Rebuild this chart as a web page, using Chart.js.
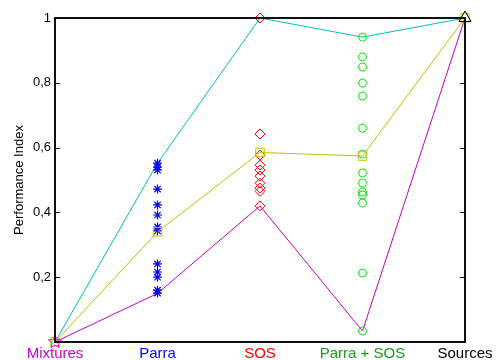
<!DOCTYPE html>
<html>
<head>
  <meta charset="UTF-8">
  <title>Performance Index</title>
  <script src="https://cdn.jsdelivr.net/npm/chart.js"></script>
  <style>
    html, body { margin: 0; padding: 0; background: #fff; }
    #wrap { width: 499px; height: 360px; }
  </style>
</head>
<body>
  <div id="wrap"><canvas id="grafico" width="499" height="360"></canvas></div>
  <script>
    // categorias no eixo x (posições 1..5)
    const categorias = ['Mixtures', 'Parra', 'SOS', 'Parra + SOS', 'Sources'];
    const coresCategorias = ['#cc00cc', '#0000ff', '#ff0000', '#1a9a1a', '#000000'];

    // curvas resumo (min, média, max)
    const serieMax = [0, 0.552, 1, 0.941, 1];
    const serieMedia = [0, 0.34, 0.585, 0.574, 1];
    const serieMin = [0, 0.15, 0.42, 0.034, 1];

    // pontos individuais por categoria
    const pontosParra = [0.552, 0.540, 0.531, 0.472, 0.423, 0.392, 0.355, 0.343, 0.241, 0.216, 0.2, 0.16, 0.151];
    const pontosSos = [1, 0.642, 0.577, 0.546, 0.531, 0.512, 0.49, 0.475, 0.465, 0.42];
    const pontosParraSos = [0.941, 0.88, 0.849, 0.799, 0.759, 0.66, 0.58, 0.522, 0.491, 0.463, 0.454, 0.429, 0.213, 0.034];
    const pontoMixtures = [0];
    const pontoSources = [1];

    // marcador pentagrama (não existe no Chart.js)
    function pentagrama(cor, r) {
      const c = document.createElement('canvas');
      c.width = c.height = r * 2 + 2;
      const g = c.getContext('2d');
      g.strokeStyle = cor;
      g.lineWidth = 1;
      g.beginPath();
      for (let i = 0; i < 10; i++) {
        const ang = -Math.PI / 2 + i * Math.PI / 5;
        const rr = i % 2 === 0 ? r : r * 0.42;
        const px = r + 1 + rr * Math.cos(ang);
        const py = r + 1 + rr * Math.sin(ang);
        if (i === 0) g.moveTo(px, py); else g.lineTo(px, py);
      }
      g.closePath();
      g.stroke();
      return c;
    }

    const emX = (x, arr) => arr.map(v => ({ x: x, y: v }));
    const serie = arr => arr.map((v, i) => ({ x: i + 1, y: v }));

    // caixa e ticks para dentro
    const caixa = {
      id: 'caixa',
      afterDatasetsDraw(chart) {
        const ctx = chart.ctx;
        const a = chart.chartArea;
        const ys = chart.scales.y;
        ctx.save();
        ctx.strokeStyle = '#000';
        ctx.lineWidth = 1;
        ys.ticks.forEach(t => {
          if (t.value <= 0 || t.value >= 1) return;
          const py = Math.round(ys.getPixelForValue(t.value)) + 0.5;
          ctx.beginPath();
          ctx.moveTo(a.left, py); ctx.lineTo(a.left + 5, py);
          ctx.moveTo(a.right, py); ctx.lineTo(a.right - 5, py);
          ctx.stroke();
        });
        ctx.lineWidth = 2;
        ctx.strokeStyle = '#111';
        ctx.strokeRect(a.left, a.top, a.right - a.left, a.bottom - a.top);
        ctx.restore();
      }
    };

    new Chart(document.getElementById('grafico'), {
      type: 'scatter',
      data: {
        datasets: [
          { data: serie(serieMedia), showLine: true, borderColor: '#bfbf00', backgroundColor: 'transparent',
            borderWidth: 1, pointStyle: 'rect', pointRadius: 6, pointBorderWidth: 1, clip: false, order: 1 },
          { data: emX(1, pontoMixtures), pointStyle: pentagrama('#ff00ff', 7), borderColor: '#ff00ff', clip: false, order: 0 },
          { data: emX(5, pontoSources), pointStyle: 'triangle', pointRadius: 7, borderColor: '#000', backgroundColor: 'transparent',
            pointBorderWidth: 1, clip: false, order: 0 },
          { data: emX(2, pontosParra), pointStyle: 'star', pointRadius: 4.5, borderColor: '#0000ff', pointBorderWidth: 1.2, clip: false, order: 2 },
          { data: emX(3, pontosSos), pointStyle: 'rectRot', pointRadius: 5, borderColor: '#ff0000', backgroundColor: 'transparent',
            pointBorderWidth: 1, clip: false, order: 2 },
          { data: emX(4, pontosParraSos), pointStyle: 'circle', pointRadius: 4, borderColor: '#00ee00', backgroundColor: 'transparent',
            pointBorderWidth: 1, clip: false, order: 2 },
          { data: serie(serieMax), showLine: true, borderColor: '#00bfbf', borderWidth: 1, pointRadius: 0, clip: false, order: 3 },
          { data: serie(serieMin), showLine: true, borderColor: '#bf00bf', borderWidth: 1, pointRadius: 0, clip: false, order: 3 }
        ]
      },
      options: {
        responsive: false,
        animation: false,
        events: [],
        layout: { padding: { top: 18, right: 34, left: 0, bottom: 0 } },
        plugins: { legend: { display: false }, tooltip: { enabled: false } },
        scales: {
          x: {
            type: 'linear', min: 1, max: 5,
            grid: { display: false, drawTicks: false },
            border: { display: false },
            afterFit: s => { s.height = 18; },
            ticks: {
              stepSize: 1, padding: 3, maxRotation: 0, autoSkip: false,
              font: { family: 'Liberation Sans', size: 15 },
              color: c => coresCategorias[c.index],
              callback: v => categorias[v - 1]
            }
          },
          y: {
            min: 0, max: 1,
            grid: { display: false, drawTicks: false },
            border: { display: false },
            afterFit: s => { s.width = 55; },
            title: { display: true, text: 'Performance Index', color: '#000', padding: { top: 12, bottom: 0 },
              font: { family: 'Liberation Sans', size: 13 } },
            ticks: {
              stepSize: 0.2, padding: 4, color: '#000',
              font: { family: 'Liberation Sans', size: 13 },
              callback: v => v === 0 ? '' : String(Math.round(v * 10) / 10).replace('.', ',')
            }
          }
        }
      },
      plugins: [caixa]
    });
  </script>
</body>
</html>
